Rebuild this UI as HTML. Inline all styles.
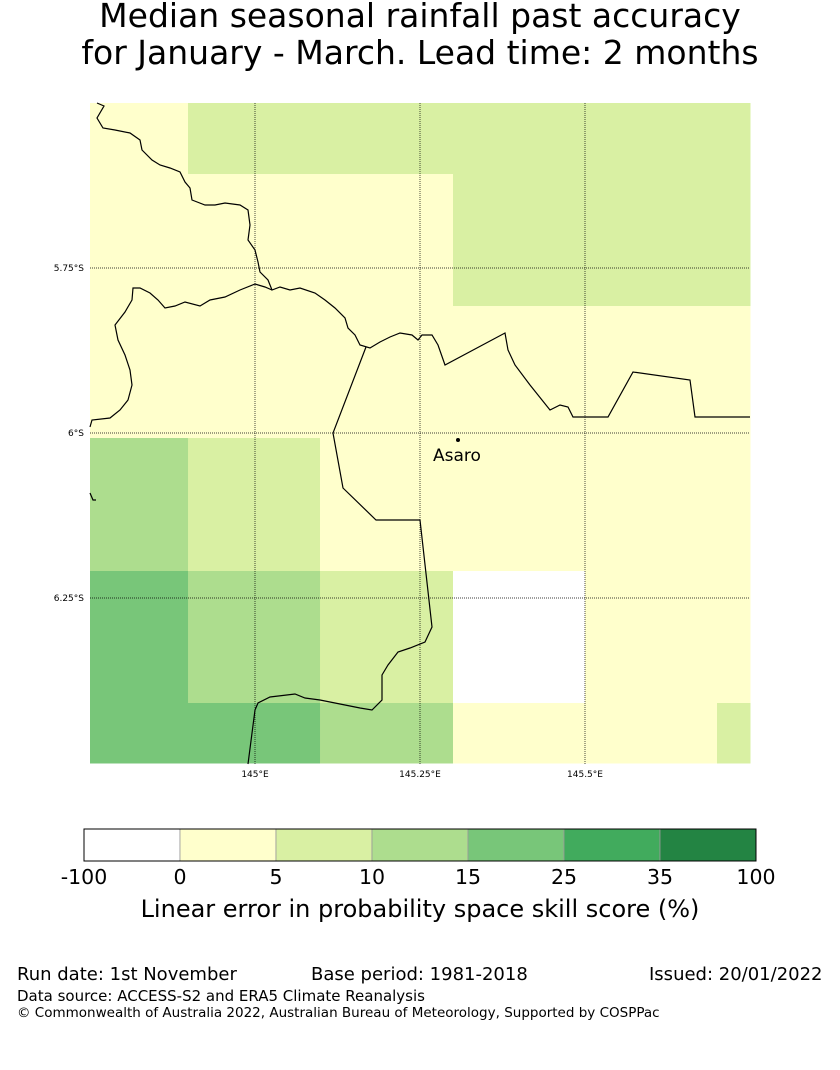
<!DOCTYPE html>
<html><head><meta charset="utf-8"><style>
body{margin:0;background:#fff;width:840px;height:1065px;overflow:hidden;font-family:"Liberation Sans","DejaVu Sans",sans-serif;}
svg text{font-family:"DejaVu Sans","Liberation Sans",sans-serif;}
</style></head><body>
<svg width="840" height="1065" xmlns="http://www.w3.org/2000/svg">
<text x="420" y="27" font-size="33" text-anchor="middle">Median seasonal rainfall past accuracy</text>
<text x="420" y="64" font-size="33" text-anchor="middle">for January - March. Lead time: 2 months</text>
<g id="cells"></g>
<g id="grid"></g>
<g fill="none" stroke="#000" stroke-width="1.2">
<polyline points="97,103 104,106 97,118 103,128 115,130 130,133 140,140 142,150 152,160 160,165 170,168 180,172 185,182 190,188 192,200 205,205 215,205 225,203 240,205 248,210 250,225 248,240 255,250 258,262 260,272 268,280 272,290 280,287 290,290 300,288 315,293 325,300 335,308 345,318 348,328 355,335 360,345 370,348 380,342 390,337 400,333 412,335 418,340 422,335 432,335 438,345 445,365 505,333 508,350 515,365 530,385 550,410 560,405 568,407 573,417 608,417 633,372 690,380 695,417 750,417"/>
<polyline points="90,427 92,420 110,418 120,410 128,400 132,385 130,370 125,355 118,340 115,325 125,312 132,300 133,288 140,288 150,293 158,300 165,308 175,306 185,302 200,306 210,300 225,297 240,290 255,284 265,287 272,290"/>
<polyline points="366,347 333,433 343,488 376,520 420,520 432,627 425,642 410,648 398,652 388,665 382,675 382,700 372,710 360,708 345,705 320,700 305,698 295,694 270,697 258,703 255,710 248,764"/>
<polyline points="90,493 93,500 96,500"/>
</g>
<circle cx="458" cy="440" r="2" fill="#000"/>
<text x="433" y="461" font-size="17">Asaro</text>
<g id="ticks" font-size="9"></g>
<g id="cbar"></g>
<text x="420" y="917" font-size="24" text-anchor="middle">Linear error in probability space skill score (%)</text>
<text x="17" y="980" font-size="18">Run date: 1st November</text>
<text x="311" y="980" font-size="18">Base period: 1981-2018</text>
<text x="649" y="980" font-size="18">Issued: 20/01/2022</text>
<text x="17" y="1001" font-size="15">Data source: ACCESS-S2 and ERA5 Climate Reanalysis</text>
<text x="17" y="1017" font-size="13.5">© Commonwealth of Australia 2022, Australian Bureau of Meteorology, Supported by COSPPac</text>
</svg>
<script>
const levels=["-100","0","5","10","15","25","35","100"];
const colors=["#ffffff","#ffffcc","#d9f0a3","#addd8e","#78c679","#41ab5d","#238443"];
// class index per cell (row top->bottom, col left->right)
const cellClass=[
[1,2,2,2,2,2],
[1,1,1,2,2,2],
[1,1,1,1,1,1],
[3,2,1,1,1,1],
[4,3,2,0,1,1],
[4,4,3,1,1,2]];
const colBounds=[144.75,144.8985,145.0985,145.3,145.5,145.7,145.75];
const rowBounds=[-5.5,-5.6076,-5.8076,-6.0076,-6.2091,-6.4091,-6.5];
const lonTicks=[145,145.25,145.5];
const lonTickLabels=["145°E","145.25°E","145.5°E"];
const latTicks=[-5.75,-6,-6.25];
const latTickLabels=["5.75°S","6°S","6.25°S"];
const X=lon=>90+(lon-144.75)*660;
const Y=lat=>103+(-5.5-lat)*660;
const NS="http://www.w3.org/2000/svg";
const cells=document.getElementById('cells');
for(let r=0;r<6;r++)for(let c=0;c<6;c++){
 const el=document.createElementNS(NS,'rect');
 const x0=X(colBounds[c]),x1=X(colBounds[c+1]),y0=Y(rowBounds[r]),y1=Y(rowBounds[r+1]);
 el.setAttribute('x',x0);el.setAttribute('y',y0);el.setAttribute('width',x1-x0+0.5);el.setAttribute('height',y1-y0+0.5);
 el.setAttribute('fill',colors[cellClass[r][c]]);
 
 
 cells.appendChild(el);
}
const grid=document.getElementById('grid'),ticks=document.getElementById('ticks');
lonTicks.forEach((v,i)=>{
 const l=document.createElementNS(NS,'line');
 l.setAttribute('x1',X(v));l.setAttribute('x2',X(v));l.setAttribute('y1',103);l.setAttribute('y2',764);
 l.setAttribute('stroke','#000');l.setAttribute('stroke-width','0.7');l.setAttribute('stroke-dasharray','1,1');
 
 
 grid.appendChild(l);
 const t=document.createElementNS(NS,'text');
 t.setAttribute('x',X(v));t.setAttribute('y',777);t.setAttribute('text-anchor','middle');t.textContent=lonTickLabels[i];
 
 
 ticks.appendChild(t);
});
latTicks.forEach((v,i)=>{
 const l=document.createElementNS(NS,'line');
 l.setAttribute('x1',90);l.setAttribute('x2',750);l.setAttribute('y1',Y(v));l.setAttribute('y2',Y(v));
 l.setAttribute('stroke','#000');l.setAttribute('stroke-width','0.7');l.setAttribute('stroke-dasharray','1,1');
 
 
 grid.appendChild(l);
 const t=document.createElementNS(NS,'text');
 t.setAttribute('x',84);t.setAttribute('y',Y(v)+3);t.setAttribute('text-anchor','end');t.textContent=latTickLabels[i];
 
 
 ticks.appendChild(t);
});
const cbar=document.getElementById('cbar');
colors.forEach((col,i)=>{
 const r=document.createElementNS(NS,'rect');
 r.setAttribute('x',84+i*96);r.setAttribute('y',829);r.setAttribute('width',96);r.setAttribute('height',32);
 r.setAttribute('fill',col);r.setAttribute('stroke','#999');r.setAttribute('stroke-width','0.8');
 
 
 cbar.appendChild(r);
});
const frame=document.createElementNS(NS,'rect');
frame.setAttribute('x',84);frame.setAttribute('y',829);frame.setAttribute('width',672);frame.setAttribute('height',32);
frame.setAttribute('fill','none');frame.setAttribute('stroke','#000');frame.setAttribute('stroke-width','1');


cbar.appendChild(frame);
levels.forEach((lv,i)=>{
 const t=document.createElementNS(NS,'text');
 t.setAttribute('x',84+i*96);t.setAttribute('y',884);t.setAttribute('text-anchor','middle');t.setAttribute('font-size','20.5');
 t.textContent=lv;
 
 
 cbar.appendChild(t);
});
</script>
</body></html>
